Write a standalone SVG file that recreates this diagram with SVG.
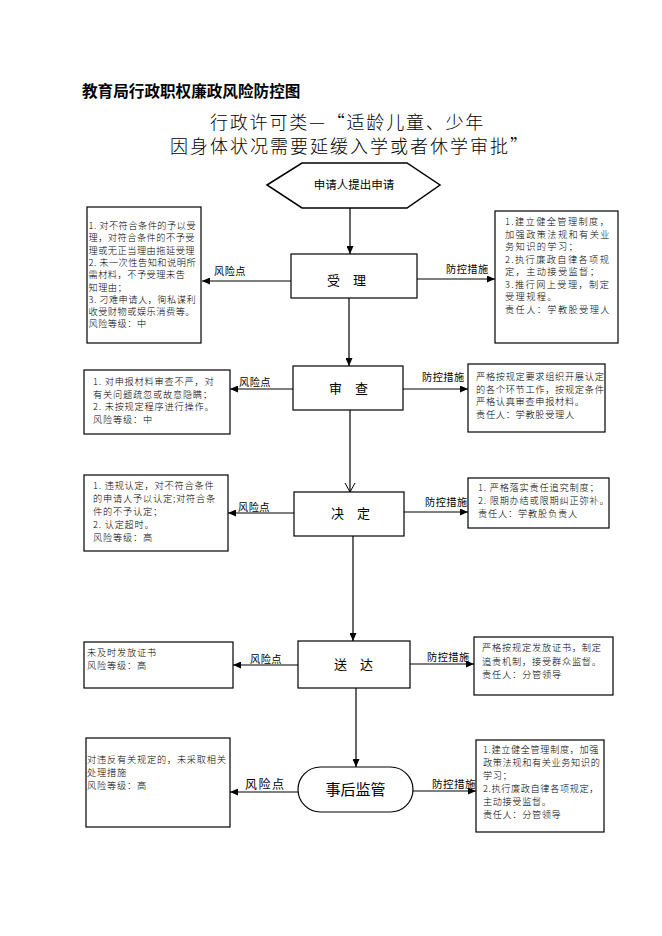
<svg xmlns="http://www.w3.org/2000/svg" width="662" height="936" viewBox="0 0 662 936">
<style>
text{font-family:"Noto Sans CJK SC","Noto Sans",sans-serif;fill:#000}
.box{fill:#fff;stroke:#000;stroke-width:1.2}
.t{font-size:9.2px;letter-spacing:0.8px;font-weight:300}
.lbl{font-size:10.2px;letter-spacing:0.5px}
.node{font-size:13px}
.ln{fill:none;stroke:#000;stroke-width:1.2}
</style>
<defs>
<marker id="ah" markerUnits="userSpaceOnUse" markerWidth="8" markerHeight="7" refX="8" refY="3.5" orient="auto">
<path d="M0,0 L8,3.5 L0,7 z" fill="#000"/>
</marker>
<marker id="av" markerUnits="userSpaceOnUse" markerWidth="10" markerHeight="12" refX="9" refY="6" orient="auto">
<path d="M0,1 L9,6 L0,11" fill="none" stroke="#000" stroke-width="1"/>
</marker>
</defs>
<rect width="662" height="936" fill="#fff"/>
<text x="82" y="97" style="font-size:15.6px;font-weight:bold">教育局行政职权廉政风险防控图</text>
<text x="210" y="129" style="font-size:18px;letter-spacing:1.8px;font-weight:300">行政许可类—“适龄儿童、少年</text>
<text x="170" y="153" style="font-size:18px;letter-spacing:2px;font-weight:300">因身体状况需要延缓入学或者休学审批”</text>

<g id="connectors">
<path class="ln" d="M350,208 V254" marker-end="url(#ah)"/>
<path class="ln" d="M349,298 V366" marker-end="url(#ah)"/>
<path class="ln" d="M350,410 V492" marker-end="url(#av)"/>
<path class="ln" d="M353,536 V641" marker-end="url(#ah)"/>
<path class="ln" d="M356,688 V767" marker-end="url(#ah)"/>
<path class="ln" d="M291,281 H202" marker-end="url(#ah)"/>
<path class="ln" d="M417,279 H495" marker-end="url(#ah)"/>
<path class="ln" d="M293,389 H230" marker-end="url(#ah)"/>
<path class="ln" d="M403,389 H468" marker-end="url(#ah)"/>
<path class="ln" d="M294,513 H228" marker-end="url(#ah)"/>
<path class="ln" d="M404,512 H468" marker-end="url(#ah)"/>
<path class="ln" d="M298,665 H233" marker-end="url(#ah)"/>
<path class="ln" d="M410,664 H474" marker-end="url(#ah)"/>
<path class="ln" d="M298,792 H230" marker-end="url(#ah)"/>
<path class="ln" d="M413,791 H476" marker-end="url(#ah)"/>
<text class="lbl" x="214" y="275">风险点</text>
<text class="lbl" x="446" y="273">防控措施</text>
<text class="lbl" x="239" y="386">风险点</text>
<text class="lbl" x="422" y="381">防控措施</text>
<text class="lbl" x="238" y="511">风险点</text>
<text class="lbl" x="425" y="506">防控措施</text>
<text class="lbl" x="250" y="663">风险点</text>
<text class="lbl" x="427" y="661">防控措施</text>
<text x="245" y="789" style="font-size:12px;letter-spacing:1.5px">风险点</text>
<text x="432" y="788" style="font-size:10.5px;letter-spacing:0.5px">防控措施</text>
</g>

<g id="start">
<polygon points="267,185 302,163 407,163 440,185 407,208 302,208" fill="#fff" stroke="#000" stroke-width="1.5"/>
<text x="354" y="189" text-anchor="middle" style="font-size:11.5px">申请人提出申请</text>
</g>

<g id="shouli">
<rect class="box" x="291" y="254" width="126" height="44"/>
<text class="node" x="327" y="285">受　理</text>
</g>
<g id="shouli-risk">
<rect class="box" x="87" y="207" width="114" height="136"/>
<text class="t" style="letter-spacing:0.5px">
<tspan x="88.5" y="229">1. 对不符合条件的予以受</tspan>
<tspan x="88.5" y="241.3">理，对符合条件的不予受</tspan>
<tspan x="88.5" y="253.6">理或无正当理由拖延受理</tspan>
<tspan x="88.5" y="265.9">2. 未一次性告知和说明所</tspan>
<tspan x="88.5" y="278.2">需材料，不予受理未告</tspan>
<tspan x="88.5" y="290.5">知理由；</tspan>
<tspan x="88.5" y="302.8">3. 刁难申请人，徇私谋利</tspan>
<tspan x="88.5" y="315.1">收受财物或娱乐消费等。</tspan>
<tspan x="88.5" y="327.4">风险等级：中</tspan>
</text>
</g>
<g id="shouli-ctrl">
<rect class="box" x="495" y="211" width="123" height="132"/>
<text class="t" style="letter-spacing:1.4px">
<tspan x="505" y="225">1.建立健全管理制度，</tspan>
<tspan x="505" y="237.5">加强政策法规和有关业</tspan>
<tspan x="505" y="250">务知识的学习；</tspan>
<tspan x="505" y="262.5">2.执行廉政自律各项规</tspan>
<tspan x="505" y="275">定，主动接受监督；</tspan>
<tspan x="505" y="287.5">3.推行网上受理，制定</tspan>
<tspan x="505" y="300">受理规程。</tspan>
<tspan x="505" y="312.5">责任人：学教股受理人</tspan>
</text>
</g>

<g id="shencha">
<rect class="box" x="293" y="366" width="110" height="44"/>
<text class="node" x="329" y="393">审　查</text>
</g>
<g id="shencha-risk">
<rect class="box" x="84" y="370" width="146" height="64"/>
<text class="t">
<tspan x="93" y="385">1. 对申报材料审查不严，对</tspan>
<tspan x="93" y="397.5">有关问题疏忽或故意隐瞒；</tspan>
<tspan x="93" y="410">2. 未按规定程序进行操作。</tspan>
<tspan x="93" y="422.5">风险等级：中</tspan>
</text>
</g>
<g id="shencha-ctrl">
<rect class="box" x="468" y="364" width="137" height="68"/>
<text class="t" style="letter-spacing:0.7px">
<tspan x="476" y="380">严格按规定要求组织开展认定</tspan>
<tspan x="476" y="392.5">的各个环节工作，按规定条件</tspan>
<tspan x="476" y="405">严格认真审查申报材料。</tspan>
<tspan x="476" y="417.5">责任人：学教股受理人</tspan>
</text>
</g>

<g id="jueding">
<rect class="box" x="294" y="492" width="110" height="44"/>
<text class="node" x="331" y="518">决　定</text>
</g>
<g id="jueding-risk">
<rect class="box" x="84" y="475" width="144" height="76"/>
<text class="t">
<tspan x="93" y="489">1. 违规认定，对不符合条件</tspan>
<tspan x="93" y="502">的申请人予以认定;对符合条</tspan>
<tspan x="93" y="515">件的不予认定；</tspan>
<tspan x="93" y="528">2. 认定超时。</tspan>
<tspan x="93" y="541">风险等级：高</tspan>
</text>
</g>
<g id="jueding-ctrl">
<rect class="box" x="468" y="478" width="141" height="50"/>
<text class="t">
<tspan x="478" y="491">1. 严格落实责任追究制度；</tspan>
<tspan x="478" y="504">2. 限期办结或限期纠正弥补。</tspan>
<tspan x="478" y="517">责任人：学教股负责人</tspan>
</text>
</g>

<g id="songda">
<rect class="box" x="298" y="641" width="112" height="47"/>
<text class="node" x="334" y="669">送　达</text>
</g>
<g id="songda-risk">
<rect class="box" x="84" y="642" width="149" height="46"/>
<text class="t">
<tspan x="87" y="656">未及时发放证书</tspan>
<tspan x="87" y="669">风险等级：高</tspan>
</text>
</g>
<g id="songda-ctrl">
<rect class="box" x="474" y="637" width="139" height="58"/>
<text class="t">
<tspan x="482" y="651">严格按规定发放证书，制定</tspan>
<tspan x="482" y="665">追责机制，接受群众监督。</tspan>
<tspan x="482" y="678">责任人：分管领导</tspan>
</text>
</g>

<g id="jianguan">
<rect x="298" y="767" width="115" height="45" rx="22.5" fill="#fff" stroke="#000" stroke-width="1.2"/>
<text x="355.5" y="795" text-anchor="middle" style="font-size:15px">事后监管</text>
</g>
<g id="jianguan-risk">
<rect class="box" x="86" y="738" width="144" height="89"/>
<text class="t">
<tspan x="87" y="763">对违反有关规定的，未采取相关</tspan>
<tspan x="87" y="776">处理措施</tspan>
<tspan x="87" y="789">风险等级：高</tspan>
</text>
</g>
<g id="jianguan-ctrl">
<rect class="box" x="476" y="740" width="128" height="92"/>
<text class="t" style="letter-spacing:0.6px">
<tspan x="483" y="753">1.建立健全管理制度，加强</tspan>
<tspan x="483" y="766">政策法规和有关业务知识的</tspan>
<tspan x="483" y="779">学习；</tspan>
<tspan x="483" y="792">2.执行廉政自律各项规定，</tspan>
<tspan x="483" y="805">主动接受监督。</tspan>
<tspan x="483" y="818">责任人：分管领导</tspan>
</text>
</g>
</svg>
